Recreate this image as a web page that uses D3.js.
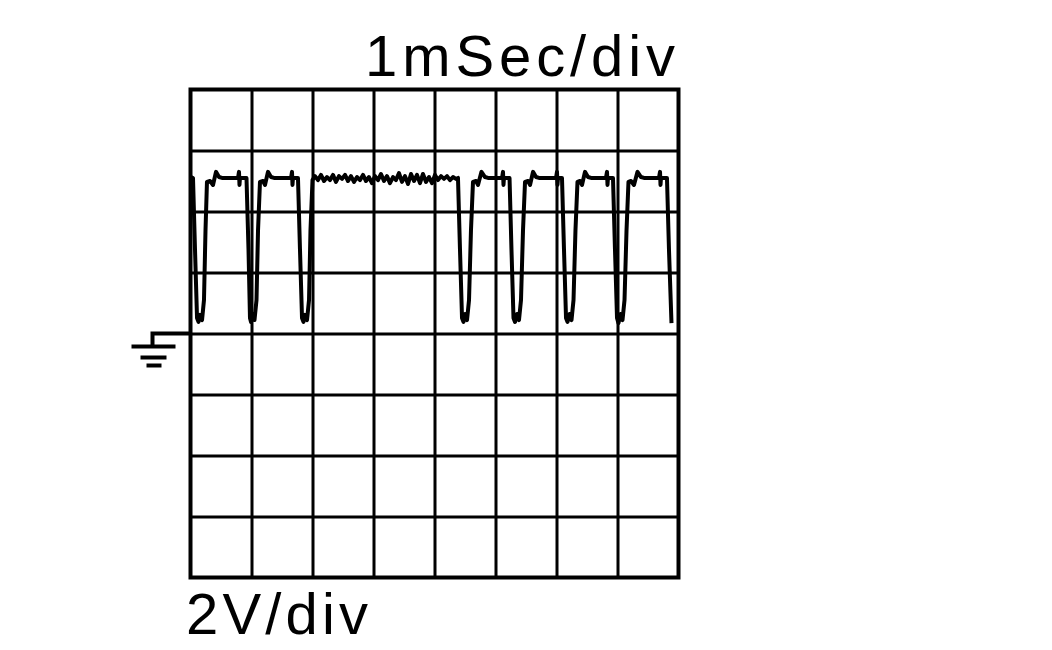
<!DOCTYPE html>
<html>
<head>
<meta charset="utf-8">
<script src="https://cdn.jsdelivr.net/npm/d3@7"></script>
<style>
  body { margin: 0; background: #fff; }
  svg { display: block; }
  .grid line { stroke: #000; stroke-width: 3; }
  .grid .domain { display: none; }
  .grid text { display: none; }
</style>
</head>
<body>
<svg id="chart" width="1052" height="650"></svg>
<script>
// scope settings
const timeLabel = "1mSec/div";
const voltLabel = "2V/div";
const timeTicks = [0, 1, 2, 3, 4, 5, 6, 7, 8];          // ms
const voltTicks = [-8, -6, -4, -2, 0, 2, 4, 6, 8];      // V

// trace: [ms, V]
const trace = [
  [0.008, 5.13], [0.041, 5.10], [0.074, 2.74], [0.107, 0.51], [0.131, 0.38], [0.156, 0.61],
  [0.189, 0.44], [0.221, 1.10], [0.246, 3.39], [0.270, 4.97], [0.320, 5.00], [0.369, 4.87],
  [0.418, 5.30], [0.467, 5.13], [0.516, 5.10], [0.779, 5.10], [0.795, 5.30], [0.803, 4.87],
  [0.811, 5.10], [0.918, 5.10],
  [0.951, 2.74], [0.975, 0.51], [0.992, 0.38], [1.025, 0.64], [1.049, 0.44], [1.082, 1.10],
  [1.107, 3.39], [1.139, 4.97], [1.189, 5.00], [1.221, 4.87], [1.270, 5.30], [1.320, 5.13],
  [1.369, 5.10], [1.648, 5.10], [1.664, 5.30], [1.672, 4.87], [1.680, 5.10], [1.762, 5.10],
  [1.795, 2.74], [1.828, 0.51], [1.852, 0.38], [1.877, 0.61], [1.910, 0.44], [1.943, 1.10],
  [1.967, 3.39], [2.000, 5.03],
  // noisy stretch, no pulses
  [2.041, 5.16], [2.090, 5.03], [2.139, 5.20], [2.189, 5.00], [2.238, 5.13], [2.287, 5.03],
  [2.336, 5.20], [2.385, 4.97], [2.434, 5.16], [2.484, 5.07], [2.533, 5.20], [2.582, 5.00],
  [2.631, 5.16], [2.680, 4.97], [2.730, 5.13], [2.779, 5.03], [2.828, 5.20], [2.877, 5.00],
  [2.926, 5.13], [2.975, 4.93], [3.025, 5.16], [3.074, 5.03], [3.123, 5.23], [3.172, 5.00],
  [3.221, 5.16], [3.270, 4.93], [3.320, 5.13], [3.369, 5.03], [3.418, 5.26], [3.467, 4.97],
  [3.516, 5.16], [3.566, 4.90], [3.615, 5.23], [3.664, 5.00], [3.713, 5.20], [3.762, 4.93],
  [3.811, 5.23], [3.861, 4.97], [3.910, 5.13], [3.959, 4.93], [4.008, 5.20], [4.057, 5.03],
  [4.107, 5.16], [4.156, 5.07], [4.205, 5.16], [4.254, 5.03], [4.303, 5.13], [4.352, 5.07],
  [4.385, 5.10],
  [4.418, 2.74], [4.451, 0.51], [4.475, 0.38], [4.500, 0.64], [4.533, 0.44], [4.566, 1.10],
  [4.598, 3.39], [4.631, 4.97], [4.680, 5.00], [4.713, 4.87], [4.770, 5.30], [4.828, 5.13],
  [4.877, 5.10], [5.107, 5.10], [5.123, 5.30], [5.131, 4.87], [5.139, 5.10], [5.230, 5.10],
  [5.262, 2.74], [5.295, 0.51], [5.320, 0.38], [5.352, 0.64], [5.385, 0.44], [5.418, 1.10],
  [5.451, 3.39], [5.484, 4.97], [5.533, 5.00], [5.566, 4.87], [5.615, 5.30], [5.664, 5.13],
  [5.713, 5.10], [5.992, 5.10], [6.008, 5.30], [6.016, 4.87], [6.025, 5.10], [6.090, 5.10],
  [6.123, 2.74], [6.156, 0.51], [6.180, 0.38], [6.213, 0.64], [6.246, 0.44], [6.279, 1.10],
  [6.311, 3.39], [6.344, 4.97], [6.385, 5.00], [6.418, 4.87], [6.467, 5.30], [6.516, 5.13],
  [6.566, 5.10], [6.811, 5.10], [6.828, 5.30], [6.836, 4.87], [6.844, 5.10], [6.926, 5.10],
  [6.959, 2.74], [6.992, 0.51], [7.016, 0.34], [7.049, 0.64], [7.082, 0.44], [7.115, 1.10],
  [7.148, 3.39], [7.180, 4.97], [7.221, 5.00], [7.270, 4.87], [7.328, 5.30], [7.385, 5.13],
  [7.434, 5.10], [7.680, 5.10], [7.697, 5.30], [7.705, 4.87], [7.713, 5.10], [7.811, 5.10],
  [7.844, 2.74], [7.885, 0.34]
];

const plotLeft = 190.5, plotTop = 89.5, plotSize = 488;

const svg = d3.select("#chart");

const x = d3.scaleLinear().domain([0, 8]).range([plotLeft, plotLeft + plotSize]);
const y = d3.scaleLinear().domain([-8, 8]).range([plotTop + plotSize, plotTop]);

// graticule
svg.append("g")
  .attr("class", "grid")
  .attr("transform", `translate(0, ${plotTop + plotSize})`)
  .call(d3.axisBottom(x).tickValues(timeTicks.slice(1, -1)).tickSize(-plotSize).tickFormat(""));

svg.append("g")
  .attr("class", "grid")
  .attr("transform", `translate(${plotLeft}, 0)`)
  .call(d3.axisLeft(y).tickValues(voltTicks.slice(1, -1)).tickSize(-plotSize).tickFormat(""));

svg.append("rect")
  .attr("x", x(0))
  .attr("y", y(8))
  .attr("width", x(8) - x(0))
  .attr("height", y(-8) - y(8))
  .attr("fill", "none")
  .attr("stroke", "#000")
  .attr("stroke-width", 4);

// ground marker at 0 V
const g0 = y(0);
const gx = plotLeft - 38;
const ground = svg.append("g").attr("stroke", "#000").attr("stroke-width", 4);
ground.append("path").attr("fill", "none")
  .attr("d", `M${plotLeft},${g0}H${gx}V${g0 + 13}`);
ground.append("line").attr("x1", gx - 21).attr("x2", gx + 23).attr("y1", g0 + 13).attr("y2", g0 + 13);
ground.append("line").attr("x1", gx - 12).attr("x2", gx + 14).attr("y1", g0 + 24).attr("y2", g0 + 24);
ground.append("line").attr("x1", gx - 6).attr("x2", gx + 9).attr("y1", g0 + 32).attr("y2", g0 + 32);

// signal
const line = d3.line()
  .x(d => x(d[0]))
  .y(d => y(d[1]));

svg.append("path")
  .datum(trace)
  .attr("d", line)
  .attr("fill", "none")
  .attr("stroke", "#000")
  .attr("stroke-width", 4)
  .attr("stroke-linejoin", "round");

// labels
svg.append("text")
  .attr("x", 365)
  .attr("y", 76)
  .attr("font-family", "Liberation Sans, Arial, sans-serif")
  .attr("font-size", 58)
  .attr("textLength", 310)
  .attr("lengthAdjust", "spacing")
  .text(timeLabel);

svg.append("text")
  .attr("x", 186)
  .attr("y", 634)
  .attr("font-family", "Liberation Sans, Arial, sans-serif")
  .attr("font-size", 58)
  .attr("textLength", 182)
  .attr("lengthAdjust", "spacing")
  .text(voltLabel);
</script>
</body>
</html>
